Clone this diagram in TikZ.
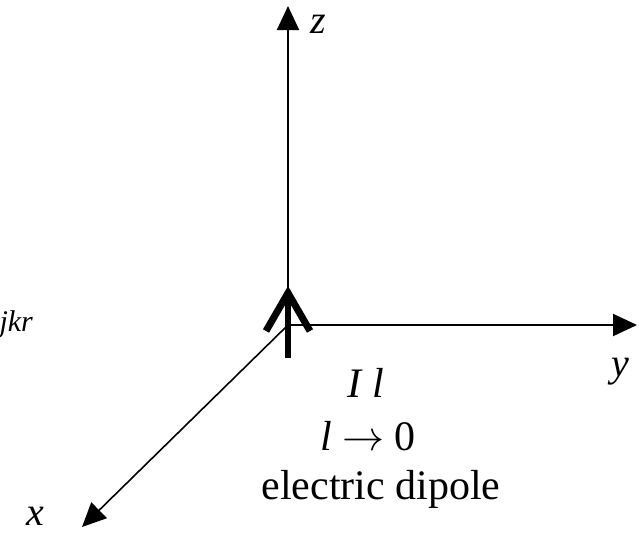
\RequirePackage{fix-cm}
\documentclass[tikz,border=0pt]{standalone}
\usepackage{fontspec}
\setmainfont{Liberation Serif}
\usetikzlibrary{arrows.meta}
\definecolor{AxInk}{HTML}{000000}
\tikzset{
  axis/.style={AxInk,line width=2pt,-{Triangle[length=24pt,width=22pt]}},
  dipolearrow/.style={AxInk,line width=6pt,-{Straight Barb[length=38pt,width=44pt,line width=7pt]}},
  axlabel/.style={font=\fontsize{40}{48}\selectfont\itshape},
  note/.style={font=\fontsize{42}{50}\selectfont}
}
\begin{document}
\begin{tikzpicture}[x=1pt,y=-1pt]
\path[use as bounding box] (0,0) rectangle (639,533);
\coordinate (O) at (288,325);
\coordinate (ztip) at (288,6);
\coordinate (ytip) at (637,325);
\coordinate (xtip) at (82,527);
\coordinate (dbot) at (288,358);
\coordinate (dtop) at (288,286);
\draw[axis] (O) -- (ztip);
\draw[axis] (O) -- (ytip);
\draw[axis,line width=1.6pt] (O) -- (xtip);
\draw[dipolearrow] (dbot) -- (dtop);
\node[axlabel] (zlab) at (318,24) {z};
\node[axlabel] (ylab) at (620,372) {y};
\node[axlabel] (xlab) at (35,516) {x};
\node[font=\fontsize{30}{36}\selectfont\itshape,anchor=base west] (jkr) at (-4,331) {jkr};
\node[note] (il) at (366,383) {\itshape I l};
\node[note] (lim) at (368,436) {\itshape l\/ \normalfont$\rightarrow$ 0};
\node[note] (dip) at (381,489) {electric dipole};
\end{tikzpicture}
\end{document}
